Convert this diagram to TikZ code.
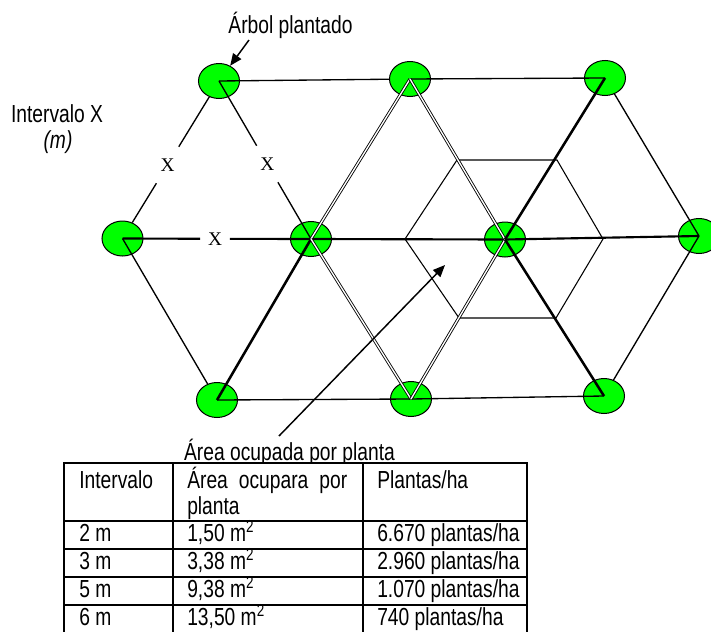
\documentclass[tikz,border=0pt]{standalone}
\usepackage{fontspec}
\setmainfont{Liberation Sans}[FakeStretch=0.78]
\newfontfamily\xserif{Liberation Serif}
\usetikzlibrary{shapes.geometric,arrows.meta}
\definecolor{treegreen}{RGB}{0,255,0}
\begin{document}
\begin{tikzpicture}[x=0.75pt,y=-0.75pt,
 tree/.style={ellipse,draw=black,line width=0.75pt,fill=treegreen,minimum width=30.75pt,minimum height=26.25pt,inner sep=0pt},
 thinln/.style={line width=1pt},
 thickln/.style={line width=1.9pt},
 dblln/.style={double,line width=0.65pt,double distance=1pt},
 midln/.style={line width=1.6pt},
 hexln/.style={line width=0.8pt},
 xlab/.style={font=\xserif\fontsize{14.5}{16}\selectfont,inner sep=0pt,minimum width=21.75pt,minimum height=27pt},
 lab/.style={font=\fontsize{18.5}{21}\selectfont,inner sep=0pt,anchor=base},
 cell/.style={font=\fontsize{18.5}{21}\selectfont,inner sep=0pt,anchor=base west},
 arr/.style={line width=1.1pt,-{Triangle[length=9pt,width=7.5pt]}},
 tab/.style={line width=1.5pt}
]
\path[use as bounding box] (0,0) rectangle (711,632);

% trees
\node[tree] (n1) at (219,81) {};
\node[tree] (n2) at (410,79) {};
\node[tree] (n3) at (605,78) {};
\node[tree] (m1) at (122.5,238.5) {};
\node[tree] (m2) at (311,239) {};
\node[tree] (m3) at (505,239.5) {};
\node[tree] (m4) at (699,236) {};
\node[tree] (b1) at (217,400) {};
\node[tree] (b2) at (411,399) {};
\node[tree] (b3) at (604,396) {};

% X labels
\node[xlab] (x1) at (167.6,165) {X};
\node[xlab] (x2) at (267.3,164) {X};
\node[xlab] (x3) at (215,238.8) {X};

% hexagon of occupied area
\coordinate (h1) at (405,239);
\coordinate (h2) at (457,160);
\coordinate (h3) at (557,160);
\coordinate (h4) at (603,239);
\coordinate (h5) at (556,318);
\coordinate (h6) at (459,318);
\draw[hexln] (h1) -- (h2) -- (h3) -- (h4) -- (h5) -- (h6) -- cycle;

% lattice lines
\draw[thinln] (n1) -- (x1);
\draw[thinln] (x1) -- (m1);
\draw[thinln] (n1.center) -- (x2);
\draw[thinln] (x2) -- (m2.center);
\draw[midln] (m1.center) -- (x3);
\draw[midln] (x3) -- (m2.center);
\draw[midln] (m2.center) -- (m3.center);
\draw[midln] (m3.center) -- (m4.center);
\draw[thinln] (m1.center) -- (b1);
\draw[thickln] (b1.center) -- (m2.center);
\draw[thinln] (b1.center) -- (b2.center);
\draw[thinln] (b2.center) -- (b3.center);
\draw[thinln] (n1.center) -- (n2);
\draw[thinln] (n2.center) -- (n3.center);
\draw[dblln] (m2.center) -- (n2.center);
\draw[dblln] (n2.center) -- (m3.center);
\draw[dblln] (m2.center) -- (b2.center);
\draw[dblln] (b2.center) -- (m3.center);
\draw[thickln] (m3.center) -- (n3.center);
\draw[thickln] (m3.center) -- (b3.center);
\draw[thinln] (n3) -- (m4.center);
\draw[thinln] (b3) -- (m4.center);

% labels and arrows
\node[lab] (tree) at (290.5,33) {Árbol plantado};
\coordinate (a1) at (249,40);
\draw[arr] (a1) -- (n1);
\node[lab] (intx) at (57,122) {Intervalo X};
\node[lab] (intm) at (58,148) {\itshape (m)};
\node[lab] (area) at (289.5,460) {Área ocupada por planta};
\coordinate (a2) at (279,436);
\coordinate (a2tip) at (445,265);
\draw[arr] (a2) -- (a2tip);

% table
\fill[white] (64,463) rectangle (527,640);
\draw[tab] (64,640) -- (64,463) -- (527,463) -- (527,640);
\draw[tab] (173,463) -- (173,640);
\draw[tab] (363,463) -- (363,640);
\draw[tab] (64,521) -- (527,521);
\draw[tab] (64,549) -- (527,549);
\draw[tab] (64,577) -- (527,577);
\draw[tab] (64,605) -- (527,605);

\node[cell] (t11) at (79,488) {Intervalo};
\node[cell] (t12) at (187,488) {\makebox[120pt][s]{Área ocupara por}};
\node[cell] (t12b) at (187,514) {planta};
\node[cell] (t13) at (377,488) {Plantas/ha};
\node[cell] (t21) at (79,541) {2 m};
\node[cell] (t22) at (187,541) {1,50 m\textsuperscript{2}};
\node[cell] (t23) at (377,541) {6.670 plantas/ha};
\node[cell] (t31) at (79,569) {3 m};
\node[cell] (t32) at (187,569) {3,38 m\textsuperscript{2}};
\node[cell] (t33) at (377,569) {2.960 plantas/ha};
\node[cell] (t41) at (79,597) {5 m};
\node[cell] (t42) at (187,597) {9,38 m\textsuperscript{2}};
\node[cell] (t43) at (377,597) {1.070 plantas/ha};
\node[cell] (t51) at (79,625) {6 m};
\node[cell] (t52) at (187,625) {13,50 m\textsuperscript{2}};
\node[cell] (t53) at (377,625) {740 plantas/ha};
\end{tikzpicture}
\end{document}
